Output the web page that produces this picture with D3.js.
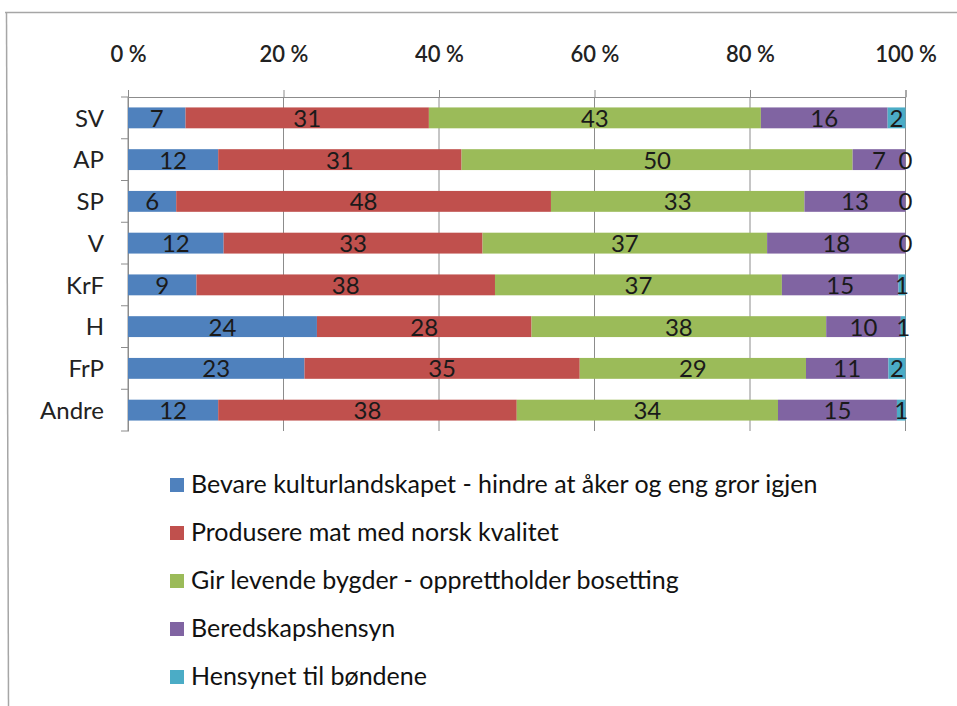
<!DOCTYPE html>
<html><head><meta charset="utf-8">
<script src="https://cdn.jsdelivr.net/npm/d3@7"></script>
<style>body{margin:0;background:#fff}svg{display:block}</style>
</head><body>
<svg id="c" width="957" height="706"></svg>
<script>
const categories = ["SV","AP","SP","V","KrF","H","FrP","Andre"];
const seriesNames = [
  "Bevare kulturlandskapet - hindre at åker og eng gror igjen",
  "Produsere mat med norsk kvalitet",
  "Gir levende bygder - opprettholder bosetting",
  "Beredskapshensyn",
  "Hensynet til bøndene"
];
const colors = ["#4F81BD","#C0504D","#9BBB59","#8064A2","#4BACC6"];
const bevare    = [7.4, 11.6, 6.2, 12.3, 8.8, 24.3, 22.7, 11.6];
const produsere = [31.3, 31.3, 48.2, 33.3, 38.4, 27.6, 35.4, 38.4];
const levende   = [42.7, 50.3, 32.6, 36.6, 36.9, 37.9, 29.1, 33.6];
const beredskap = [16.3, 6.8, 13.0, 17.8, 15.0, 9.6, 10.6, 15.3];
const bonde     = [2.3, 0.0, 0.0, 0.0, 0.9, 0.6, 2.2, 1.1];
const tickValues = [0, 0.2, 0.4, 0.6, 0.8, 1.0];
const tickLabels = ["0 %","20 %","40 %","60 %","80 %","100 %"];

const seriesArrays = [bevare, produsere, levende, beredskap, bonde];
const keys = seriesNames;
const rows = categories.map((c,i)=>{
  const o = {cat:c};
  keys.forEach((k,j)=>o[k]=seriesArrays[j][i]);
  return o;
});
const stacked = d3.stack().keys(keys).offset(d3.stackOffsetExpand)(rows);

const svg = d3.select("#c");
const font = "Lato, 'Open Sans', sans-serif";
const gray = "#8c8c8c";

// frame
svg.append("line").attr("x1",5).attr("x2",957).attr("y1",12.5).attr("y2",12.5).attr("stroke","#a6a6a6").attr("stroke-width",1.5);
svg.append("line").attr("x1",6.5).attr("x2",8.5).attr("y1",12).attr("y2",706).attr("stroke","#a6a6a6").attr("stroke-width",1.5);

const x = d3.scaleLinear().domain([0,1]).range([128,905.5]);
const y = d3.scaleBand().domain(categories).range([97,431]).paddingInner(0.5).paddingOuter(0.25);

// gridlines
svg.append("g").selectAll("line").data(tickValues).join("line")
  .attr("x1",d=>x(d)).attr("x2",d=>x(d)).attr("y1",97).attr("y2",431)
  .attr("stroke",gray).attr("stroke-width",1);

// top axis
const xAxis = d3.axisTop(x).tickValues(tickValues).tickFormat((d,i)=>tickLabels[i]).tickSize(7).tickPadding(28);
const gx = svg.append("g").attr("transform","translate(0,97)").call(xAxis);
gx.select(".domain").attr("stroke",gray);
gx.selectAll(".tick line").attr("stroke",gray);
gx.selectAll(".tick text").attr("font-family",font).attr("font-size",22).attr("fill","#222").attr("font-weight","600");

// left axis
const yAxis = d3.axisLeft(y).tickSize(0).tickPadding(24);
const gy = svg.append("g").attr("transform","translate(128,0)").call(yAxis);
gy.select(".domain").attr("stroke",gray);
gy.selectAll(".tick text").attr("font-family",font).attr("font-size",24).attr("fill","#222").attr("dy","0.36em");
// band boundary ticks
const bounds = d3.range(categories.length+1).map(i=>97+i*(334/categories.length));
svg.append("g").selectAll("line").data(bounds).join("line")
  .attr("x1",121).attr("x2",128).attr("y1",d=>d).attr("y2",d=>d).attr("stroke",gray);

// bars
const g = svg.append("g");
stacked.forEach((s,j)=>{
  g.append("g").selectAll("rect").data(s).join("rect")
    .attr("x",d=>x(d[0])).attr("width",d=>x(d[1])-x(d[0]))
    .attr("y",d=>y(d.data.cat)).attr("height",y.bandwidth())
    .attr("fill",colors[j]);
});
stacked.forEach((s,j)=>{
  g.append("g").selectAll("text").data(s).join("text")
    .attr("x",d=>(x(d[0])+x(d[1]))/2)
    .attr("y",d=>y(d.data.cat)+y.bandwidth()/2+9)
    .attr("text-anchor","middle")
    .attr("font-family",font).attr("font-size",24).attr("fill","#1a1a1a")
    .text(d=>Math.round(d.data[s.key]));
});

// legend
const lg = svg.append("g");
seriesNames.forEach((n,i)=>{
  const yy = 485 + i*48;
  lg.append("rect").attr("x",170).attr("y",yy-7).attr("width",14).attr("height",14).attr("fill",colors[i]);
  lg.append("text").attr("x",191).attr("y",yy+8).attr("font-family",font).attr("font-size",25).attr("fill","#111").text(n);
});
</script>
</body></html>
